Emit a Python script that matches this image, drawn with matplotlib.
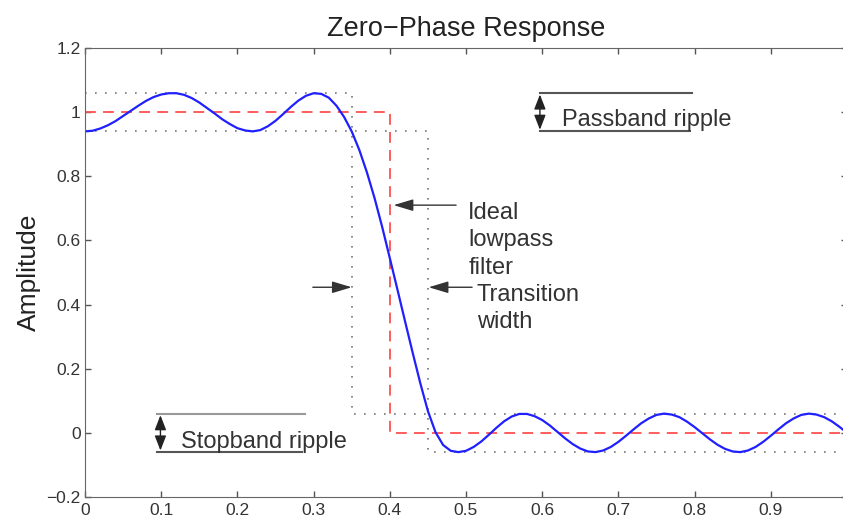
import numpy as np
import matplotlib
matplotlib.use("Agg")
import matplotlib.pyplot as plt

plt.rcParams['font.family'] = ['Liberation Sans', 'DejaVu Sans']

# normalized frequency grid and zero-phase amplitude of the FIR design
freq = np.round(np.arange(101) * 0.01, 2)
amplitude = [
    0.940, 0.942, 0.949, 0.959, 0.972, 0.988, 1.004, 1.020, 1.035, 1.047,
    1.055, 1.059, 1.059, 1.054, 1.044, 1.030, 1.013, 0.996, 0.978, 0.963,
    0.950, 0.943, 0.940, 0.944, 0.956, 0.973, 0.994, 1.016, 1.036, 1.051,
    1.059, 1.057, 1.045, 1.020, 0.985, 0.940, 0.882, 0.812, 0.732, 0.642,
    0.545, 0.447, 0.348, 0.250, 0.155, 0.068, 0.002, -0.038, -0.056, -0.060,
    -0.056, -0.044, -0.027, -0.006, 0.016, 0.036, 0.051, 0.059, 0.059, 0.052,
    0.040, 0.023, 0.003, -0.017, -0.035, -0.049, -0.058, -0.060, -0.055, -0.044,
    -0.028, -0.009, 0.011, 0.030, 0.045, 0.056, 0.060, 0.057, 0.049, 0.035,
    0.018, -0.001, -0.020, -0.037, -0.050, -0.058, -0.060, -0.055, -0.044, -0.028,
    -0.009, 0.011, 0.030, 0.045, 0.056, 0.060, 0.057, 0.049, 0.036, 0.019,
    0.000,
]

# ideal lowpass (cutoff 0.4) and tolerance bands
ideal_x = [0, 0.4, 0.4, 1.0]
ideal_y = [1, 1, 0, 0]
pass_ripple = 0.06
stop_ripple = 0.06
pass_edge = 0.35
stop_edge = 0.45

xticks = [0, 0.1, 0.2, 0.3, 0.4, 0.5, 0.6, 0.7, 0.8, 0.9]
yticks = [-0.2, 0, 0.2, 0.4, 0.6, 0.8, 1, 1.2]


def tick_text(t):
    if t == 0:
        return '0'
    return f'{t:g}'.replace('-', '\u2212')


fig = plt.figure(figsize=(8.43, 5.2), dpi=100)
ax = fig.add_axes([85 / 843, 23 / 520, 762 / 843, 449 / 520])

dot = dict(color='#777777', lw=1.2, ls=(0, (1, 5)))
ax.plot([0, pass_edge, pass_edge, 1], [1 + pass_ripple, 1 + pass_ripple, stop_ripple, stop_ripple], **dot)
ax.plot([0, stop_edge, stop_edge, 1], [1 - pass_ripple, 1 - pass_ripple, -stop_ripple, -stop_ripple], **dot)
ax.plot(ideal_x, ideal_y, color='#ff5050', lw=1.3, ls=(0, (6, 4)))
ax.plot(freq, amplitude, color='#2020ff', lw=1.6)

ax.set_xlim(0, 1)
ax.set_ylim(-0.2, 1.2)
ax.set_xticks(xticks)
ax.set_xticklabels([tick_text(t) for t in xticks])
ax.set_yticks(yticks)
ax.set_yticklabels([tick_text(t) for t in yticks])
ax.tick_params(direction='in', length=4.5, width=1, colors='#555555',
               labelcolor='#333333', labelsize=12.5, top=True, right=True, pad=3)
ax.tick_params(axis='x', pad=4)
for sp in ax.spines.values():
    sp.set_color('#666666')

ax.set_title('Zero\u2212Phase Response', fontsize=19.5, color='#222222', pad=9)
ax.set_ylabel('Amplitude', fontsize=19, color='#222222', labelpad=4)

# ripple markers
line_kw = dict(color='#555555', lw=1.5)
ax.plot([0.597, 0.797], [1.06, 1.06], **line_kw)
ax.plot([0.597, 0.794], [0.94, 0.94], **line_kw)
ax.plot([0.094, 0.289], [0.06, 0.06], color='#999999', lw=1.5)
ax.plot([0.094, 0.285], [-0.06, -0.06], **line_kw)

dbl = dict(arrowstyle='<|-|>,head_length=0.9,head_width=0.35', color='#222222',
           lw=1, shrinkA=0, shrinkB=0, mutation_scale=10)
ax.annotate('', xy=(0.597, 1.055), xytext=(0.597, 0.945), arrowprops=dbl)
ax.annotate('', xy=(0.099, 0.055), xytext=(0.099, -0.055), arrowprops=dbl)

txt = dict(fontsize=17, color='#333333', va='center', ha='left')
ax.text(0.626, 0.974, 'Passband ripple', **txt)
ax.text(0.126, -0.029, 'Stopband ripple', **txt)
ax.text(0.503, 0.600, 'Ideal\nlowpass\nfilter', linespacing=1.3, **txt)
ax.text(0.514, 0.387, 'Transition\nwidth', linespacing=1.3, **txt)

arr = dict(arrowstyle='-|>,head_length=1.0,head_width=0.3', color='#333333',
           lw=1, shrinkA=0, shrinkB=0, mutation_scale=12)
ax.annotate('', xy=(0.405, 0.71), xytext=(0.487, 0.71), arrowprops=arr)
ax.annotate('', xy=(0.350, 0.454), xytext=(0.299, 0.454), arrowprops=arr)
ax.annotate('', xy=(0.451, 0.454), xytext=(0.508, 0.454), arrowprops=arr)

fig.savefig('out.png', dpi=100)
